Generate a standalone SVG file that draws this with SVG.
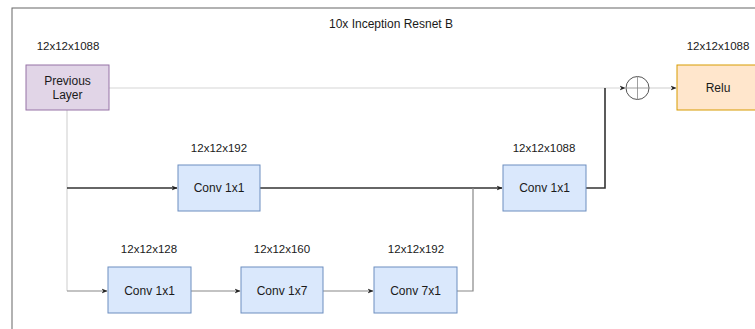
<svg xmlns="http://www.w3.org/2000/svg" width="755" height="329" viewBox="0 0 755 329">
<defs>
<marker id="ah" viewBox="0 0 10 10" refX="9" refY="5" markerWidth="6" markerHeight="6" markerUnits="userSpaceOnUse" orient="auto">
<path d="M0,1 L10,5 L0,9 L3,5 Z" fill="#222"/>
</marker>
<style>
text{font-family:"Liberation Sans",Arial,sans-serif;font-size:11.5px;fill:#1a1a1a;text-anchor:middle;dominant-baseline:central}
.big{font-size:12px}
.conv rect{fill:#dae8fc;stroke:#6c8ebf;stroke-width:1}
.light{stroke:#d6d6d6;stroke-width:1.2;fill:none}
.dark{stroke:#333;stroke-width:1.6;fill:none}
.mid{stroke:#888;stroke-width:1.2;fill:none}
</style>
</defs>
<rect width="755" height="329" fill="#fff"/>
<rect x="12" y="8" width="760" height="340" fill="none" stroke="#666" stroke-width="1"/>
<text class="big" x="391" y="24">10x Inception Resnet B</text>
<g id="connectors">
<path class="light" d="M109,88 L625,88" marker-end="url(#ah)"/>
<path class="light" d="M649,88 L676,88" marker-end="url(#ah)"/>
<path class="light" d="M67,110 L67,291"/>
<path class="dark" d="M67,188 L177,188" marker-end="url(#ah)"/>
<path class="dark" d="M260,188 L502,188" marker-end="url(#ah)"/>
<path class="dark" d="M586,188 L605,188 L605,88"/>
<path class="mid" d="M67,291 L107,291" marker-end="url(#ah)"/>
<path class="mid" d="M191,291 L240,291" marker-end="url(#ah)"/>
<path class="mid" d="M323,291 L373,291" marker-end="url(#ah)"/>
<path class="mid" d="M457,291 L473,291 L473,188"/>
</g>
<g id="prev">
<rect x="26" y="65" width="83" height="45" fill="#e1d5e7" stroke="#9673a6"/>
<text class="big" x="67.5" y="81">Previous</text>
<text class="big" x="67.5" y="95">Layer</text>
<text x="68" y="46">12x12x1088</text>
</g>
<g id="sum">
<circle cx="637.5" cy="88" r="11.5" fill="#fff" stroke="#555" stroke-width="1"/>
<path d="M637.5,76.5 L637.5,99.5 M626,88 L649,88" stroke="#888" stroke-width="0.8"/>
</g>
<g id="relu">
<rect x="677" y="65" width="83" height="45" fill="#ffe6cc" stroke="#d79b00"/>
<text class="big" x="718" y="88">Relu</text>
<text x="718" y="46">12x12x1088</text>
</g>
<g id="conv_a" class="conv">
<rect x="178" y="165" width="82" height="46"/>
<text class="big" x="219" y="188">Conv 1x1</text>
<text x="219" y="148">12x12x192</text>
</g>
<g id="conv_out" class="conv">
<rect x="503" y="165" width="83" height="46"/>
<text class="big" x="544.5" y="188">Conv 1x1</text>
<text x="544" y="148">12x12x1088</text>
</g>
<g id="conv_b1" class="conv">
<rect x="108" y="267" width="83" height="46"/>
<text class="big" x="149.5" y="291">Conv 1x1</text>
<text x="149" y="249">12x12x128</text>
</g>
<g id="conv_b2" class="conv">
<rect x="241" y="267" width="82" height="46"/>
<text class="big" x="282" y="291">Conv 1x7</text>
<text x="282" y="249">12x12x160</text>
</g>
<g id="conv_b3" class="conv">
<rect x="374" y="267" width="83" height="46"/>
<text class="big" x="415.5" y="291">Conv 7x1</text>
<text x="416" y="249">12x12x192</text>
</g>
</svg>
